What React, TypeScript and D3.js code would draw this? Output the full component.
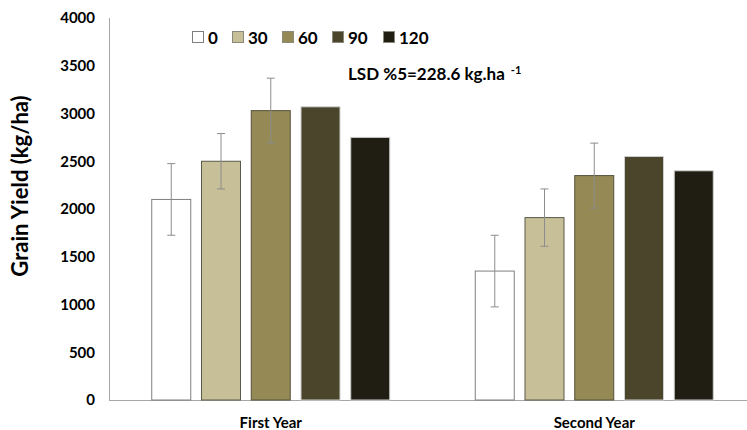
import React from "react";
import * as d3 from "d3";

const groups = ["First Year", "Second Year"];
const series = ["0", "30", "60", "90", "120"];
const colors = ["#ffffff", "#c6bf98", "#958a55", "#4b452c", "#201e13"];
const strokes = ["#7f7f7f", "#5a5a4a", "#55503a", "#cfcfcf", "#cfcfcf"];
const firstYear = [2100, 2500, 3030, 3070, 2750];
const secondYear = [1350, 1910, 2350, 2550, 2400];
const firstErr = [375, 290, 340, null, null];
const secondErr = [375, 300, 340, null, null];
const yTicks = [0, 500, 1000, 1500, 2000, 2500, 3000, 3500, 4000];

const W = 747;
const H = 430;
const FONT = "Lato, 'Open Sans', sans-serif";

export default function App() {
  const x0 = d3.scaleBand<string>().domain(groups).range([109, 756]).paddingInner(0).paddingOuter(0);
  const groupInner = 238;
  const x1 = d3.scaleBand<string>().domain(series).range([0, groupInner]).paddingInner(0.216).paddingOuter(0);
  const y = d3.scaleLinear().domain([0, 4000]).range([400, 18]);
  const values = [firstYear, secondYear];
  const errs = [firstErr, secondErr];

  return (
    <svg width={W} height={H} style={{ position: "absolute", left: 0, top: 0, background: "#fff" }}>
      <line x1={109.5} x2={109.5} y1={y(4000)} y2={y(0)} stroke="#a6a6a6" strokeWidth={1} />
      <line x1={109} x2={W} y1={y(0) + 0.5} y2={y(0) + 0.5} stroke="#a6a6a6" strokeWidth={1} />
      {yTicks.map((t) => (
        <text key={t} x={95} y={y(t)} dy="0.36em" textAnchor="end" fontFamily={FONT} fontWeight="bold" fontSize={15} fill="#000">
          {t}
        </text>
      ))}
      <text transform={`translate(28,186) rotate(-90)`} textAnchor="middle" fontFamily={FONT} fontWeight="bold" fontSize={22} fill="#000">
        Grain Yield (kg/ha)
      </text>
      {groups.map((g, gi) => {
        const gx = (x0(g) as number) + (x0.bandwidth() - groupInner) / 2;
        return (
          <g key={g}>
            {series.map((s, si) => {
              const bx = gx + (x1(s) as number);
              const v = values[gi][si];
              const e = errs[gi][si];
              const cx = bx + x1.bandwidth() / 2;
              return (
                <g key={s}>
                  <rect x={bx} y={y(v)} width={x1.bandwidth()} height={y(0) - y(v)} fill={colors[si]} stroke={strokes[si]} strokeWidth={1} />
                  {e != null && (
                    <g stroke="#8c8c8c" strokeWidth={1}>
                      <line x1={cx} x2={cx} y1={y(v + e)} y2={y(v - e)} />
                      <line x1={cx - 4} x2={cx + 4} y1={y(v + e)} y2={y(v + e)} />
                      <line x1={cx - 4} x2={cx + 4} y1={y(v - e)} y2={y(v - e)} />
                    </g>
                  )}
                </g>
              );
            })}
            <text x={(x0(g) as number) + x0.bandwidth() / 2} y={423} dy="0.35em" textAnchor="middle" fontFamily={FONT} fontWeight="bold" fontSize={15} fill="#000">
              {g}
            </text>
          </g>
        );
      })}
      {series.map((s, si) => {
        const lx = [192, 232, 282, 332, 383][si];
        return (
          <g key={s}>
            <rect x={lx + 0.5} y={31.5} width={11} height={11} fill={colors[si]} stroke={si === 0 ? "#7f7f7f" : "#8a8a7a"} strokeWidth={1} />
            <text x={lx + 16} y={37.5} dy="0.36em" fontFamily={FONT} fontWeight="bold" fontSize={17} fill="#000">
              {s}
            </text>
          </g>
        );
      })}
      <text x={348} y={74} dy="0.36em" fontFamily={FONT} fontWeight="bold" fontSize={17} fill="#000">
        LSD %5=228.6 kg.ha
        <tspan fontSize={11} dx={6} dy={-6}>-1</tspan>
      </text>
    </svg>
  );
}
